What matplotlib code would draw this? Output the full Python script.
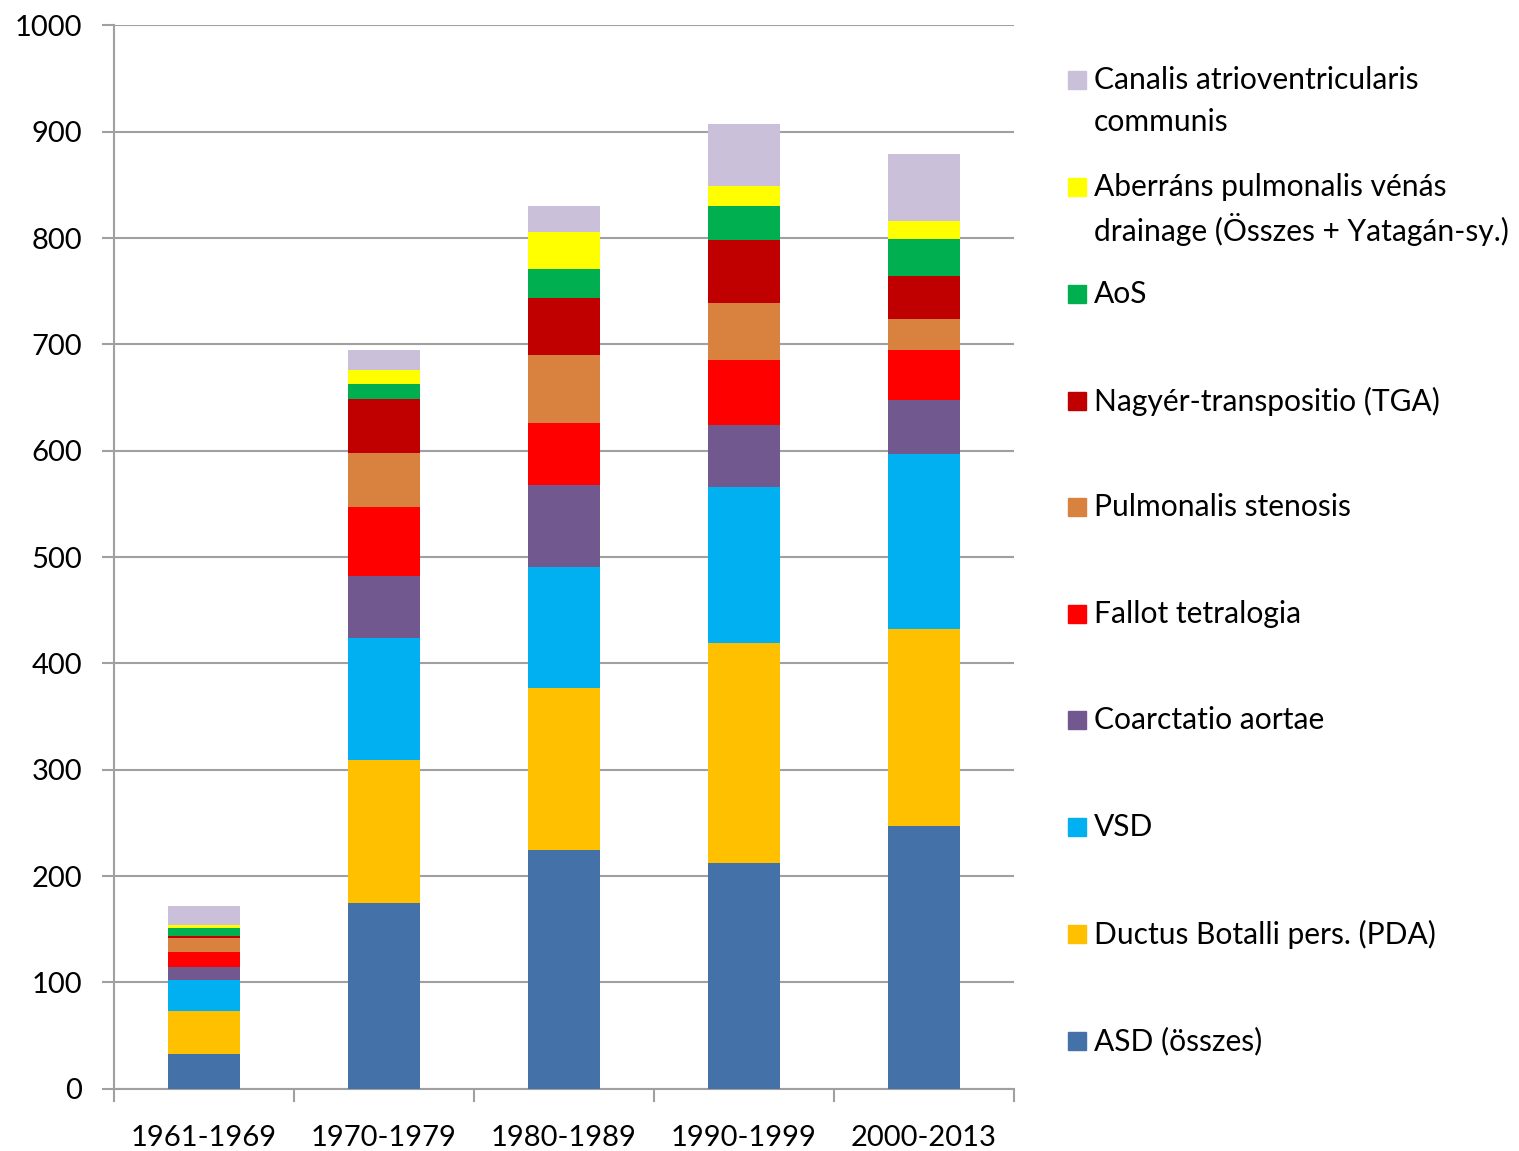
import matplotlib
matplotlib.use('Agg')
import matplotlib.pyplot as plt
from matplotlib.patches import Rectangle
import numpy as np

plt.rcParams['font.family'] = ['Lato', 'DejaVu Sans']

periods = ['1961-1969', '1970-1979', '1980-1989', '1990-1999', '2000-2013']

# values, bottom to top
asd = [33, 175, 225, 212, 247]
pda = [40, 134, 152, 207, 185]
vsd = [29, 115, 114, 147, 165]
coa = [13, 58, 77, 58, 51]
fallot = [14, 65, 58, 61, 47]
ps = [13, 51, 64, 54, 29]
tga = [2, 51, 54, 59, 40]
aos = [7, 14, 27, 32, 35]
apv = [3, 13, 35, 19, 17]
cavc = [18, 19, 24, 58, 63]

series = [asd, pda, vsd, coa, fallot, ps, tga, aos, apv, cavc]
labels = ['ASD (összes)', 'Ductus Botalli pers. (PDA)', 'VSD', 'Coarctatio aortae',
          'Fallot tetralogia', 'Pulmonalis stenosis', 'Nagyér-transpositio (TGA)', 'AoS',
          'Aberráns pulmonalis vénás\ndrainage (Összes + Yatagán-sy.)',
          'Canalis atrioventricularis\ncommunis']
colors = ['#4472A8', '#FFC000', '#00B0F0', '#71588F', '#FF0000',
          '#D9823F', '#C00000', '#00B050', '#FFFF00', '#CBC0DA']

fig = plt.figure(figsize=(15.19, 11.51), dpi=100)
ax = fig.add_axes([0.075, 0.054, 0.5925, 0.924])

x = np.arange(len(periods))
bottom = np.zeros(len(periods))
for vals, c in zip(series, colors):
    ax.bar(x, vals, width=0.4, bottom=bottom, color=c, zorder=3)
    bottom += np.array(vals)

ax.set_xlim(-0.5, len(periods) - 0.5)
ax.set_ylim(0, 1000)
ax.set_yticks(range(0, 1001, 100))
ax.yaxis.grid(True, color='#A0A0A0', linewidth=1.5, zorder=0)

ax.set_xticks(x)
ax.set_xticklabels(periods)
ax.set_xticks(np.arange(-0.5, len(periods)), minor=True)
ax.tick_params(axis='x', which='major', length=0, pad=26, labelsize=21)
ax.tick_params(axis='x', which='minor', length=9, width=1.5, color='#A0A0A0')
ax.tick_params(axis='y', length=9, width=1.5, color='#A0A0A0', pad=14, labelsize=21)

for s in ['top', 'right']:
    ax.spines[s].set_visible(False)
for s in ['left', 'bottom']:
    ax.spines[s].set_color('#A0A0A0')
    ax.spines[s].set_linewidth(1.5)

# legend drawn by hand, top entry first (pixel positions)
W, H = 1519, 1151
ys = [80, 187, 294, 401, 507, 614, 720, 827, 934, 1041]
sq = 18
for i, yp in enumerate(ys):
    k = len(series) - 1 - i
    fig.patches.append(Rectangle((1068 / W, (H - yp - sq / 2) / H), sq / W, sq / H,
                                 transform=fig.transFigure, color=colors[k]))
    for j, ln in enumerate(labels[k].split('\n')):
        fig.text(1094 / W, (H - yp - 42 * j) / H, ln, fontsize=21.6, va='center', ha='left')

fig.savefig('out.png', dpi=100)
